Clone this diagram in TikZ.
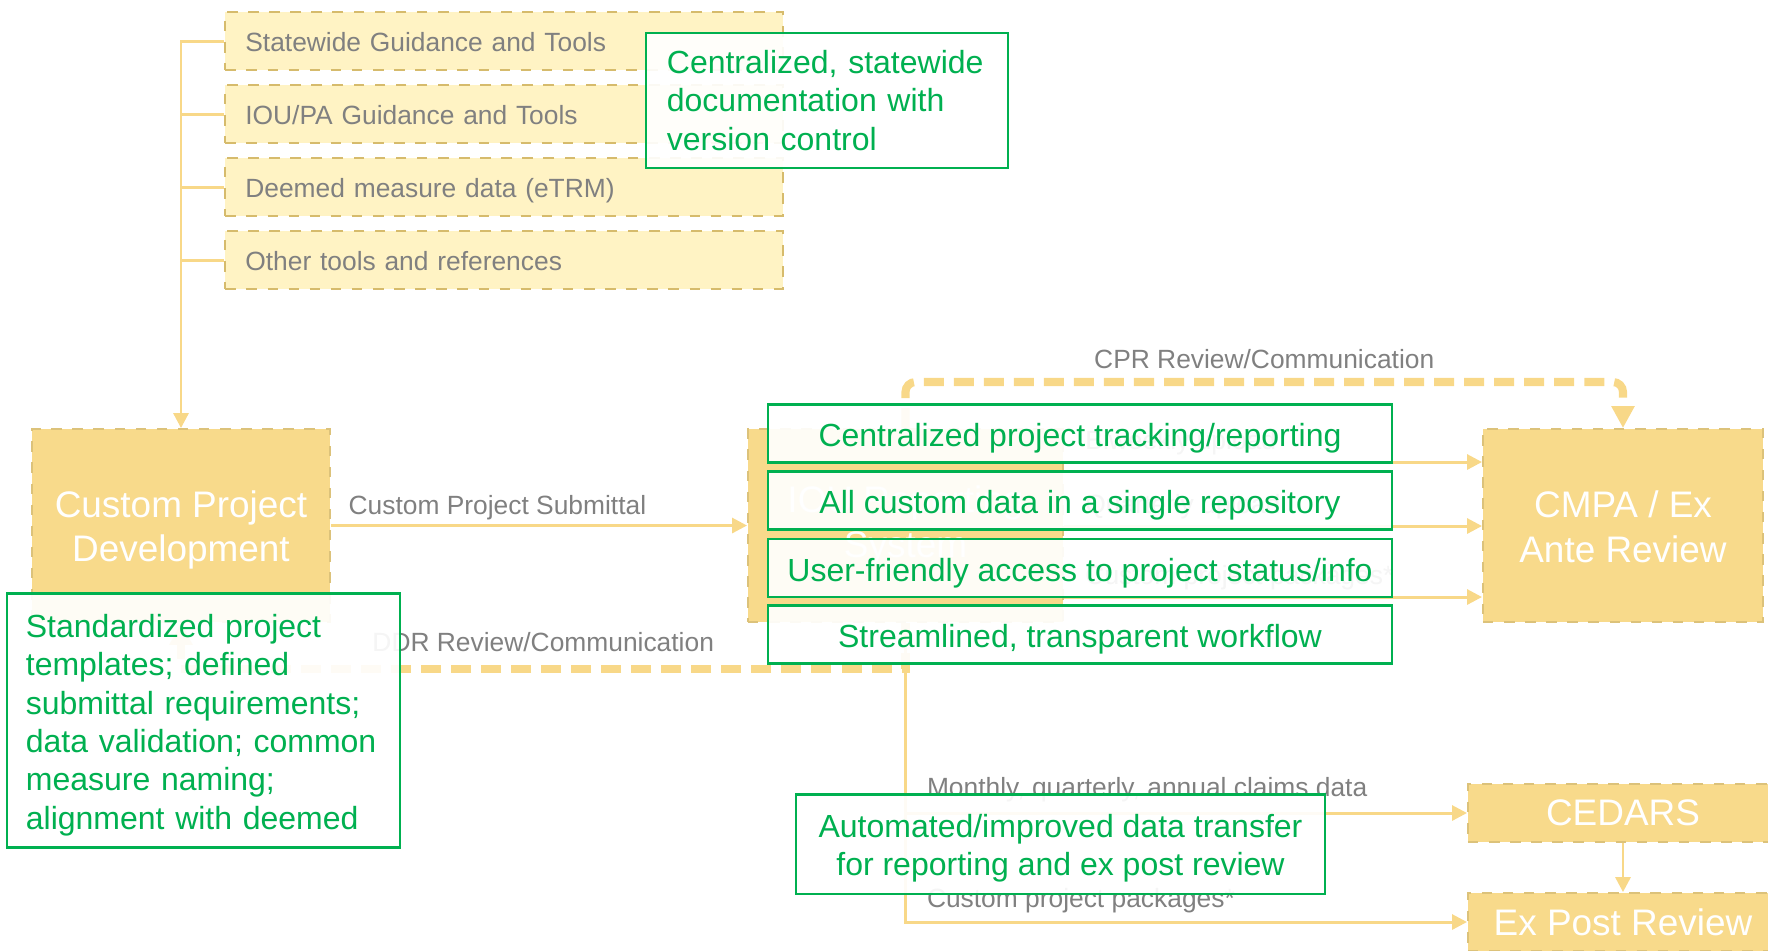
\documentclass[tikz,border=0pt]{standalone}
\usepackage{fontspec}
\setmainfont{Liberation Sans}
\usetikzlibrary{arrows.meta}
\definecolor{stagefill}{HTML}{F8DA8B}
\definecolor{stageline}{HTML}{DCC27A}
\definecolor{toolfill}{HTML}{FFF3C4}
\definecolor{toolline}{HTML}{D6BB6C}
\definecolor{linkgold}{HTML}{F8D888}
\definecolor{labelgray}{HTML}{808080}
\definecolor{notegreen}{HTML}{00B050}

\begin{document}
\begin{tikzpicture}[x=0.01cm,y=-0.01cm]
	\useasboundingbox (0,0) rectangle (1768,950);
	\tikzstyle{Tool}=[draw=toolline,dashed,line width=0.6pt,fill=toolfill,minimum width=5.57cm,minimum height=0.58cm,text width=5.17cm,inner xsep=0.2cm,text height=0.26cm,text depth=0.05cm,align=left,text=labelgray,font=\fontsize{7.5}{9}\selectfont]
	\tikzstyle{Stage}=[draw=stageline,dashed,line width=0.5pt,fill=stagefill,text=white,align=center,font=\fontsize{10.5}{12.7}\selectfont]
	\tikzstyle{Note}=[draw=notegreen,line width=0.7pt,fill=white,fill opacity=0.92,text opacity=1,text=notegreen,font=\fontsize{9.1}{10.9}\selectfont]
	\tikzstyle{Link}=[draw=linkgold,line width=0.85pt]
	\tikzstyle{Flow}=[Link,-{Triangle[length=0.15cm,width=0.15cm]}]
	\tikzstyle{Loop}=[draw=linkgold,line width=2.3pt,dash pattern=on 0.2cm off 0.1cm,-{Triangle[length=0.22cm,width=0.22cm]}]
	\tikzstyle{Label}=[text=labelgray,font=\fontsize{7.5}{9}\selectfont,inner sep=0.03cm]

	% guidance and tools
	\node[Tool] (sw) at (504,41) {Statewide Guidance and Tools};
	\node[Tool] (iou) at (504,114) {IOU/PA Guidance and Tools};
	\node[Tool] (etrm) at (504,187) {Deemed measure data (eTRM)};
	\node[Tool] (other) at (504,260) {Other tools and references};

	% process stages
	\node[Stage,minimum width=2.98cm,minimum height=1.93cm] (cpd) at (181,525.5) {\rule{0pt}{0.355cm}Custom Project\\Development};
	\node[Stage,minimum width=3.15cm,minimum height=1.93cm] (irs) at (905.5,525.5) {IOU Reporting\\System};
	\node[Stage,minimum width=2.80cm,minimum height=1.93cm] (cmpa) at (1623,525.5) {\rule{0pt}{0.29cm}CMPA / Ex\\Ante Review};
	\node[Stage,minimum width=3.10cm,minimum height=0.58cm] (cedars) at (1623,813) {CEDARS};
	\node[Stage,minimum width=3.10cm,minimum height=0.58cm] (expost) at (1623,922) {Ex Post Review};

	\draw[Flow] (sw.west) -| (cpd.north);
	\foreach \t in {iou,etrm,other}
		\draw[Link] (\t.west) -- (\t.west -| cpd.north);
	\draw[Flow] (cpd) -- (irs) node[Label,pos=0.4,above=0.015cm] {Custom Project Submittal};
	\foreach \y/\t in {462/Biweekly upload,526/Quarterly upload,597/Custom project packages*}
		\draw[Flow] (irs.east |- 0,\y) -- (cmpa.west |- 0,\y) node[Label,pos=0,anchor=south west,xshift=0.17cm,yshift=0.03cm] {\t};
	\draw[Loop,rounded corners=0.1cm] (irs.north) -- (irs.north |- 0,382) -- (cmpa.north |- 0,382) node[Label,midway,above=0.06cm] {CPR Review/Communication} -- (cmpa.north);
	\draw[Loop] (irs.south) -- (irs.south |- 0,669) -- (cpd.south |- 0,669) node[Label,midway,above=0.105cm] {DDR Review/Communication} -- (cpd.south);
	\draw[Flow] (irs.south) -- (irs.south |- expost.west) -- (expost.west) node[Label,pos=0,anchor=south west,xshift=0.17cm,yshift=0.05cm] {Custom project packages*};
	\draw[Flow] (irs.south |- cedars.west) -- (cedars.west) node[Label,pos=0,anchor=south west,xshift=0.17cm,yshift=0.07cm] {Monthly, quarterly, annual claims data};
	\draw[Flow] (cedars) -- (expost);

	% improvements
	\node[Note,minimum width=3.62cm,minimum height=1.35cm,text width=3.2cm,inner xsep=0.21cm,align=left] (gdoc) at (827,100.5) {Centralized, statewide\\documentation with\\version control};
	\node[Note,minimum width=3.93cm,minimum height=2.53cm,text width=3.55cm,inner xsep=0.19cm,align=left] (gstd) at (203.5,720.5) {\rule{0pt}{0.32cm}Standardized project\\templates; defined\\submittal requirements;\\data validation; common\\measure naming;\\alignment with deemed};
	\foreach \y/\t/\n in {433.5/Centralized project tracking\slash reporting/gtrack,500.5/All custom data in a single repository/grepo,568/User-friendly access to project status\slash info/gaccess,634.5/{Streamlined, transparent workflow}/gflow}
		\node[Note,minimum width=6.24cm,minimum height=0.58cm,inner ysep=0.05cm,text height=0.33cm,text depth=0.067cm] (\n) at (1080,\y) {\t};
	\node[Note,minimum width=5.29cm,minimum height=0.98cm,align=center] (gauto) at (1060.5,844) {\rule{0pt}{0.31cm}Automated/improved data transfer\\for reporting and ex post review};
\end{tikzpicture}
\end{document}
